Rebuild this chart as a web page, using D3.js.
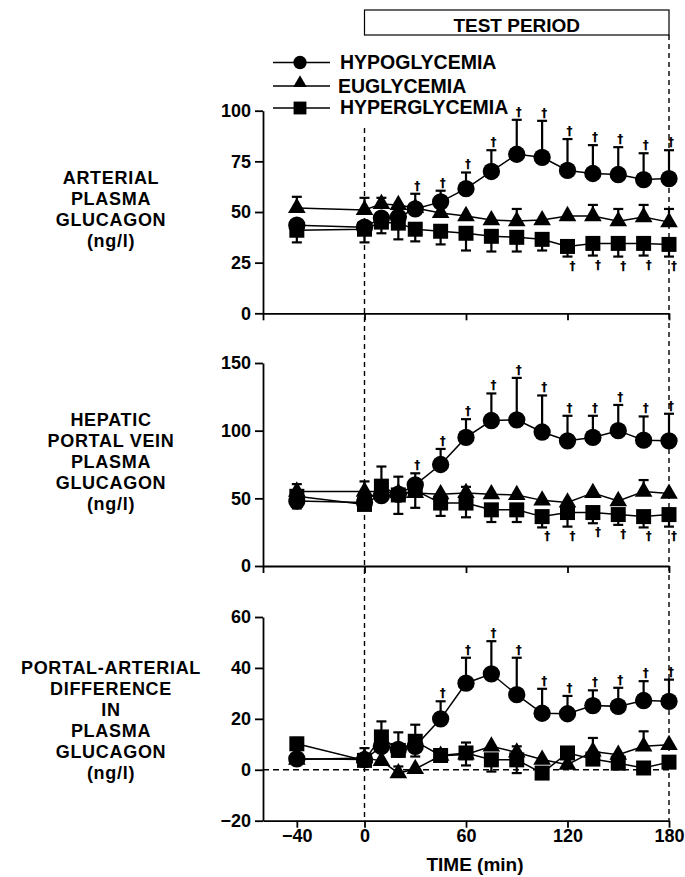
<!DOCTYPE html>
<html><head><meta charset="utf-8">
<script src="https://cdn.jsdelivr.net/npm/d3@7"></script>
<style>
body{margin:0;background:#fff;}
svg{display:block;}
text{font-family:"Liberation Sans",Arial,Helvetica,sans-serif;font-weight:bold;fill:#000;}
text.dag{font-family:"DejaVu Sans",sans-serif;font-weight:bold;font-size:12px;fill:#000;opacity:0.99;}
</style></head><body>
<svg id="c" width="685" height="877"></svg>
<script>
// ---- data ----
const times = [-40,0,10,20,30,45,60,75,90,105,120,135,150,165,180];
const seriesNames = ["HYPOGLYCEMIA","EUGLYCEMIA","HYPERGLYCEMIA"];
const xTicksUpper = [-60,0,60,120,180];
const xTicksLower = [-40,0,60,120,180];

// Panel 1: arterial plasma glucagon
const artTicks = [0,25,50,75,100];
const artHypo = [43.5,42.5,47,47.5,51.5,55,61.5,70,78.5,77,70.5,69,68.5,66,66.5];
const artHypoUp = [null,null,null,null,59,60.5,69.5,80.5,95.5,95,86,83,82,79,80.5];
const artEu = [52,51,54,53.5,52,49.5,48,46,45.5,46,48,48,45.5,47.5,45];
const artEuUp = [57.5,57,57,null,null,null,null,null,51.5,null,null,53.5,51.5,53.5,51.5];
const artHyper = [41,41.5,45,44.5,41.5,40.5,39.5,38,37.5,36.5,33,34.5,34.5,34.5,34];
const artHyperDown = [35,35,39.5,36.5,35.5,34,31,30.5,30.5,31,28,28.5,28,28.5,28];
const artHypoSig = [30,45,60,75,90,105,120,135,150,165,180];
const artHyperSig = [120,135,150,165,180];

// Panel 2: hepatic portal vein plasma glucagon
const porTicks = [0,50,100,150];
const porHypo = [48,47,52,53,60,75,95,107.5,108,99,92.5,95,100,93,92.5];
const porHypoUp = [null,null,null,null,68.5,86.5,108.5,127.5,139,126,111,111,119,110.5,112.5];
const porEu = [55,55,55,54,54,53,54,53,52.5,48.5,47,54,48,55,53.5];
const porEuUp = [60.5,62.5,null,null,null,null,58.5,null,null,null,null,null,null,63.5,null];
const porHyper = [51.5,45.5,59,52.5,56,46.5,46.5,41.5,41.5,36.5,39.5,39.5,38,36.5,38];
const porHyperDown = [42.5,null,null,38.5,43,37,36,32.5,32.5,28.5,29.1,31.6,30.4,28.5,29.1];
const porHyperUp = [null,null,73.5,66,null,null,null,null,null,null,null,null,null,null,null];
const porHypoSig = [30,45,60,75,90,105,120,135,150,165,180];
const porHyperSig = [105,120,135,150,165,180];

// Panel 3: portal-arterial difference
const difTicks = [-20,0,20,40,60];
const difHypo = [4.3,4,9.2,8,9.2,20,34,37.7,29.5,22.2,22,25.2,24.9,27.2,26.9];
const difHypoUp = [null,null,null,null,null,26.9,44,50.5,44,31.8,29,31.2,32.2,34.8,35.4];
const difEu = [4,4.6,3.5,-1.3,0.3,5.5,6,9.2,6.8,4,2,7.2,5.9,9.2,9.8];
const difEuUp = [null,null,null,1.3,null,null,null,null,9.2,null,null,12.5,null,15.1,null];
const difHyper = [10.2,3.7,12.9,7.6,11.2,5.6,6.6,3.9,3.9,-1.3,6.6,4.2,2.6,0.7,3];
const difHyperUp = [12.5,8.5,19,14.7,17.7,null,10.7,null,null,null,null,null,null,null,null];
const difHyperDown = [null,null,null,null,5.2,null,1.7,-0.7,-1.3,null,null,null,null,null,null];
const difHypoSig = [45,60,75,90,105,120,135,150,165,180];
const difHyperSig = [];

// ---- drawing ----
const svg = d3.select("#c");
const x = d3.scaleLinear().domain([-60,180]).range([263,669]);

const panels = [
  {title:["ARTERIAL","PLASMA","GLUCAGON","(ng/l)"], base:184, step:21,
   domain:[0,100], range:[313.3,110.7], ticks:artTicks, xticks:xTicksUpper, labels:false, zeroLine:false,
   series:[
     {v:artHypo, up:artHypoUp, down:null, sym:"circle", sig:artHypoSig, sigDir:"up"},
     {v:artEu, up:artEuUp, down:null, sym:"triangle", sig:[], sigDir:"up"},
     {v:artHyper, up:null, down:artHyperDown, sym:"square", sig:artHyperSig, sigDir:"down"}]},
  {title:["HEPATIC","PORTAL VEIN","PLASMA","GLUCAGON","(ng/l)"], base:426, step:21,
   domain:[0,150], range:[566,363], ticks:porTicks, xticks:xTicksUpper, labels:false, zeroLine:false,
   series:[
     {v:porHypo, up:porHypoUp, down:null, sym:"circle", sig:porHypoSig, sigDir:"up"},
     {v:porEu, up:porEuUp, down:null, sym:"triangle", sig:[], sigDir:"up"},
     {v:porHyper, up:porHyperUp, down:porHyperDown, sym:"square", sig:porHyperSig, sigDir:"down"}]},
  {title:["PORTAL-ARTERIAL","DIFFERENCE","IN","PLASMA","GLUCAGON","(ng/l)"], base:673.5, step:21,
   domain:[-20,60], range:[820.7,617], ticks:difTicks, xticks:xTicksLower, labels:true, zeroLine:true,
   series:[
     {v:difHypo, up:difHypoUp, down:null, sym:"circle", sig:difHypoSig, sigDir:"up"},
     {v:difEu, up:difEuUp, down:null, sym:"triangle", sig:[], sigDir:"up"},
     {v:difHyper, up:difHyperUp, down:difHyperDown, sym:"square", sig:difHyperSig, sigDir:"down"}]}
];

const symType = {circle:d3.symbolCircle, triangle:d3.symbolTriangle, square:d3.symbolSquare};
const symSize = {circle:235, triangle:135, square:225};
const symSizeLeg = {circle:140, triangle:80, square:165};

// dashed verticals
svg.append("line").attr("x1",x(0)).attr("x2",x(0)).attr("y1",128).attr("y2",820.7)
  .attr("stroke","#000").attr("stroke-width",1.4).attr("stroke-dasharray","5,4");
svg.append("line").attr("x1",x(180)).attr("x2",x(180)).attr("y1",35).attr("y2",820.7)
  .attr("stroke","#000").attr("stroke-width",1.4).attr("stroke-dasharray","5,4");

// test period box
svg.append("rect").attr("x",x(0)).attr("y",10).attr("width",x(180)-x(0)).attr("height",25)
  .attr("fill","none").attr("stroke","#000").attr("stroke-width",1.2);
svg.append("text").attr("x",(x(0)+x(180))/2).attr("y",31.5).attr("text-anchor","middle")
  .style("font-size","19px").text("TEST PERIOD");

panels.forEach(p=>{
  const y = d3.scaleLinear().domain(p.domain).range(p.range);
  const g = svg.append("g");
  // title lines
  p.title.forEach((t,i)=>{
    g.append("text").attr("x",111).attr("y",p.base+i*p.step).attr("text-anchor","middle")
      .style("font-size","18px").style("letter-spacing","0.7px").text(t);
  });
  // y axis
  const ya = g.append("g").attr("transform",`translate(${x(-60)},0)`)
    .call(d3.axisLeft(y).tickValues(p.ticks).tickSize(8).tickSizeOuter(0).tickPadding(4).tickFormat(d3.format("d")));
  ya.selectAll("path,line").attr("stroke","#000").attr("stroke-width",1.8);
  ya.selectAll("text").style("font-size","18px").style("font-family","Liberation Sans, Arial, sans-serif").style("font-weight","bold").attr("fill","#000");
  // x axis
  const yBase = y(p.domain[0]);
  const xa = g.append("g").attr("transform",`translate(0,${yBase})`)
    .call(d3.axisBottom(x).tickValues(p.xticks).tickSize(7).tickSizeOuter(0).tickPadding(2).tickFormat(p.labels?d3.format("d"):""));
  xa.selectAll("path,line").attr("stroke","#000").attr("stroke-width",1.8);
  xa.selectAll("text").style("font-size","18px").style("font-family","Liberation Sans, Arial, sans-serif").style("font-weight","bold").attr("fill","#000");
  if(p.zeroLine){
    g.append("line").attr("x1",x(-60)).attr("x2",x(180)).attr("y1",y(0)).attr("y2",y(0))
      .attr("stroke","#000").attr("stroke-width",1.4).attr("stroke-dasharray","6,4");
  }
  // lines
  const line = d3.line().x((d,i)=>x(times[i])).y(d=>y(d));
  p.series.forEach(s=>{
    g.append("path").attr("d",line(s.v)).attr("fill","none").attr("stroke","#000").attr("stroke-width",1.5);
  });
  // error bars
  p.series.forEach(s=>{
    [s.up,s.down].forEach(arr=>{
      if(!arr) return;
      arr.forEach((e,i)=>{
        if(e===null||e===undefined) return;
        const cx=x(times[i]);
        g.append("line").attr("x1",cx).attr("x2",cx).attr("y1",y(s.v[i])).attr("y2",y(e))
          .attr("stroke","#000").attr("stroke-width",2.2);
        g.append("line").attr("x1",cx-5).attr("x2",cx+5).attr("y1",y(e)).attr("y2",y(e))
          .attr("stroke","#000").attr("stroke-width",2.2);
      });
    });
  });
  // markers
  p.series.forEach(s=>{
    g.selectAll(null).data(s.v).enter().append("path")
      .attr("transform",(d,i)=>`translate(${x(times[i])},${y(d)})`)
      .attr("d",d3.symbol().type(symType[s.sym]).size(symSize[s.sym])())
      .attr("fill","#000");
  });
  // significance daggers
  p.series.forEach(s=>{
    s.sig.forEach(t=>{
      const i = times.indexOf(t);
      let endVal;
      if(s.sigDir==="up"){
        endVal = (s.up && s.up[i]!=null)? s.up[i] : s.v[i];
        g.append("text").attr("class","dag").attr("x",x(t)+2).attr("y",y(endVal)-4).attr("text-anchor","middle").text("\u2020");
      } else {
        endVal = (s.down && s.down[i]!=null)? s.down[i] : s.v[i];
        g.append("text").attr("class","dag").attr("x",x(t)+5).attr("y",y(endVal)+13).attr("text-anchor","middle").text("\u2020");
      }
    });
  });
});

// x title
svg.append("text").attr("x",475).attr("y",871).attr("text-anchor","middle").style("font-size","19px").text("TIME (min)");

// legend
const legRows = [{y:62.5,ty:69.3,sym:"circle",tx:340},{y:86,ty:92.7,sym:"triangle",tx:338},{y:108,ty:114,sym:"square",tx:340}];
legRows.forEach((r,i)=>{
  svg.append("line").attr("x1",273).attr("x2",330).attr("y1",r.y).attr("y2",r.y).attr("stroke","#000").attr("stroke-width",1.3);
  svg.append("path").attr("transform",`translate(300,${r.sym==="triangle"?r.y-3:r.y})`)
    .attr("d",d3.symbol().type(symType[r.sym]).size(symSizeLeg[r.sym])()).attr("fill","#000");
  svg.append("text").attr("x",r.tx).attr("y",r.ty).style("font-size","19.5px").text(seriesNames[i]);
});
</script>
</body></html>
